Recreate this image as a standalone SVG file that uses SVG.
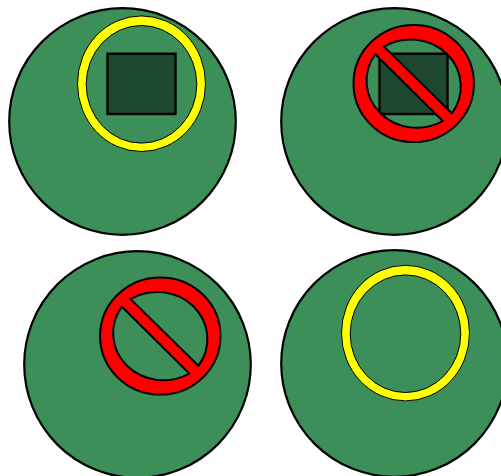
<svg xmlns="http://www.w3.org/2000/svg" width="501" height="476" viewBox="0 0 501 476">
<style>
.body{fill:#3c8f59;stroke:#000;stroke-width:2.2}
.box{fill:#1e482d;stroke:#000;stroke-width:2.4}
.yes{fill:#ff0;stroke:#000;stroke-width:1;fill-rule:evenodd}
.no{fill:#f00;stroke:#000;stroke-width:2;fill-rule:evenodd;stroke-linejoin:miter}
</style>
<defs>
<path id="ring" class="yes" d="M77.5 83.7a64 67.8 0 1 0 128 0a64 67.8 0 1 0-128 0ZM86.2 84.3a55.3 58.8 0 1 0 110.6 0a55.3 58.8 0 1 0-110.6 0Z"/>
<path id="ban" class="no" d="M353.5 83.5a60.2 58.6 0 1 0 120.4 0a60.2 58.6 0 1 0-120.4 0ZM384 46.6L451.8 113.3A50.2 47 0 0 0 384 46.6ZM375.3 54.2L442.7 121A50.2 47 0 0 1 375.3 54.2Z"/>
</defs>
<g id="top-left">
<circle class="body" cx="122.5" cy="121.5" r="113.3"/>
<rect class="box" x="107.5" y="53.7" width="68" height="60.3"/>
<use href="#ring"/>
</g>
<g id="top-right">
<circle class="body" cx="394.5" cy="121.5" r="113.3"/>
<rect class="box" x="379.5" y="53.7" width="68" height="60.3"/>
<use href="#ban"/>
</g>
<g id="bottom-left">
<circle class="body" cx="137.5" cy="364.5" r="113.3"/>
<use href="#ban" transform="translate(-253.4 252.5)"/>
</g>
<g id="bottom-right">
<circle class="body" cx="394.5" cy="363.5" r="113.3"/>
<use href="#ring" transform="translate(264 249.4)"/>
</g>
</svg>
